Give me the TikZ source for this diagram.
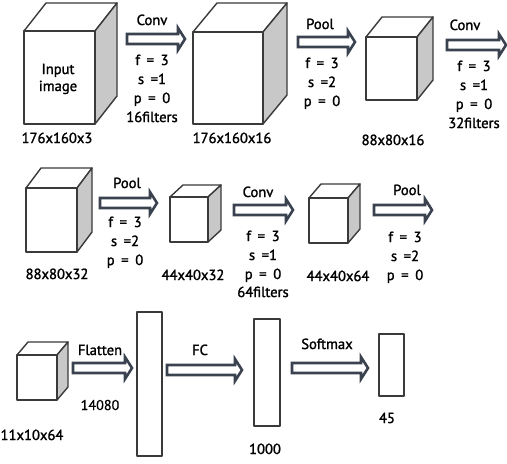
\documentclass[tikz,border=0pt]{standalone}
\usepackage{fontspec}
\setmainfont{PT Sans}
\newfontfamily\lblfont[FakeBold=1.5, WordSpace=1.7]{PT Sans}
\newfontfamily\lblfontr[FakeBold=0.5]{PT Sans}
\definecolor{cubecol}{HTML}{3A3A3A}
\definecolor{sidegray}{HTML}{C8C8C8}
\definecolor{arrcol}{HTML}{3A4250}
\newcommand{\drawcube}[7]{% name, x1, y1, x2, y2, dx, dy(up)
  \draw[cubeline, fill=white] (#2,#3) -- (#2+#6,#3-#7) -- (#4+#6,#3-#7) -- (#4,#3) -- cycle;
  \draw[cubeline, fill=sidegray] (#4,#3) -- (#4+#6,#3-#7) -- (#4+#6,#5-#7) -- (#4,#5) -- cycle;
  \draw[cubeline, fill=white] (#2,#3) rectangle (#4,#5);
  \coordinate (#1) at ({(#2+#4)/2},{(#3+#5)/2});
}
\newcommand{\fatarr}[4]{% name, x1, x2, yc
  \draw[fatarrow] (#2,#4-5) -- (#3-7,#4-5) -- (#3-7,#4-11) -- (#3,#4) -- (#3-7,#4+11) -- (#3-7,#4+5) -- (#2,#4+5) -- cycle;
  \coordinate (#1) at ({(#2+#3)/2},#4);
}
\begin{document}
\begin{tikzpicture}[x=1pt,y=-1pt,
  cubeline/.style={draw=cubecol, line width=1.4pt, line join=round},
  fatarrow/.style={draw=arrcol, line width=2.6pt, fill=white, line join=miter},
  lbl/.style={anchor=base, inner sep=0pt, text=black, font=\lblfont\fontsize{14.6}{16}\selectfont},
  lblr/.style={anchor=base, inner sep=0pt, text=black, font=\lblfontr\fontsize{14.2}{16}\selectfont},
  layer/.style={cubeline, fill=white}]
\useasboundingbox (0,0) rectangle (507,464);
\fill[white] (0,0) rectangle (507,464);

% ---- row 1 ----
\drawcube{c1}{24}{31}{95}{124}{22}{28}
\node[lbl] (in1) at (58,74) {Input};
\node[lbl] (in2) at (58,91) {image};
\node[lbl] (d1) at (57,143) {176x160x3};

\fatarr{a1}{127}{185}{39}
\node[lbl] (op1) at (152,25) {Conv};
\node[lbl] (p1a) at (152,65) {f = 3};
\node[lbl] (p1b) at (152,84) {s =1};
\node[lbl] (p1c) at (152,103) {p = 0};
\node[lbl] (p1d) at (152,122) {16filters};

\drawcube{c2}{193}{32}{263}{124}{24}{29}
\node[lbl] (d2) at (232,143) {176x160x16};

\fatarr{a2}{298}{355}{42}
\node[lbl] (op2) at (320,29) {Pool};
\node[lbl] (p2a) at (322,68) {f = 3};
\node[lbl] (p2b) at (322,87) {s =2};
\node[lbl] (p2c) at (322,106) {p = 0};

\drawcube{c3}{366}{37}{417}{100}{16}{20}
\node[lbl] (d3) at (393,145) {88x80x16};

\fatarr{a3}{447}{506}{45}
\node[lbl] (op3) at (465,30) {Conv};
\node[lbl] (p3a) at (474,71) {f = 3};
\node[lbl] (p3b) at (474,90) {s =1};
\node[lbl] (p3c) at (474,109) {p = 0};
\node[lbl] (p3d) at (474,128) {32filters};

% ---- row 2 ----
\drawcube{c4}{26}{188}{77}{252}{15}{20}
\node[lbl] (d4) at (57,279) {88x80x32};

\fatarr{a4}{100}{157}{203}
\node[lbl] (op4) at (127,188) {Pool};
\node[lbl] (p4a) at (125,227) {f = 3};
\node[lbl] (p4b) at (125,246) {s =2};
\node[lbl] (p4c) at (125,265) {p = 0};

\drawcube{c5}{170}{197}{208}{242}{13}{12}
\node[lbl] (d5) at (193,280) {44x40x32};

\fatarr{a5}{234}{293}{210}
\node[lbl] (op5) at (258,197) {Conv};
\node[lbl] (p5a) at (263,241) {f = 3};
\node[lbl] (p5b) at (263,260) {s =1};
\node[lbl] (p5c) at (263,279) {p = 0};
\node[lbl] (p5d) at (263,297) {64filters};

\drawcube{c6}{309}{198}{348}{243}{12}{14}
\node[lbl] (d6) at (338,281) {44x40x64};

\fatarr{a6}{374}{432}{210}
\node[lbl] (op6) at (407,195) {Pool};
\node[lbl] (p6a) at (405,242) {f = 3};
\node[lbl] (p6b) at (405,261) {s =2};
\node[lbl] (p6c) at (405,280) {p = 0};

% ---- row 3 ----
\drawcube{c7}{17}{355}{57}{400}{11}{13}
\node[lbl] (d7) at (32,440) {11x10x64};

\fatarr{a7}{73}{132}{368}
\node[lbl] (op7) at (100,355) {Flatten};
\node[lblr] (n7) at (100,410) {14080};

\draw[layer] (137,312) rectangle (162,456);
\coordinate (r1) at (149.5,384);

\fatarr{a8}{167}{242}{370}
\node[lbl] (op8) at (200,355) {FC};

\draw[layer] (254,319) rectangle (280,426);
\coordinate (r2) at (267,372);
\node[lbl] (n8) at (265,454) {1000};

\fatarr{a9}{292}{368}{368}
\node[lbl] (op9) at (327,349) {Softmax};

\draw[layer] (379,334) rectangle (404,396);
\coordinate (r3) at (391.5,365);
\node[lbl] (n9) at (387,423) {45};
\end{tikzpicture}
\end{document}
